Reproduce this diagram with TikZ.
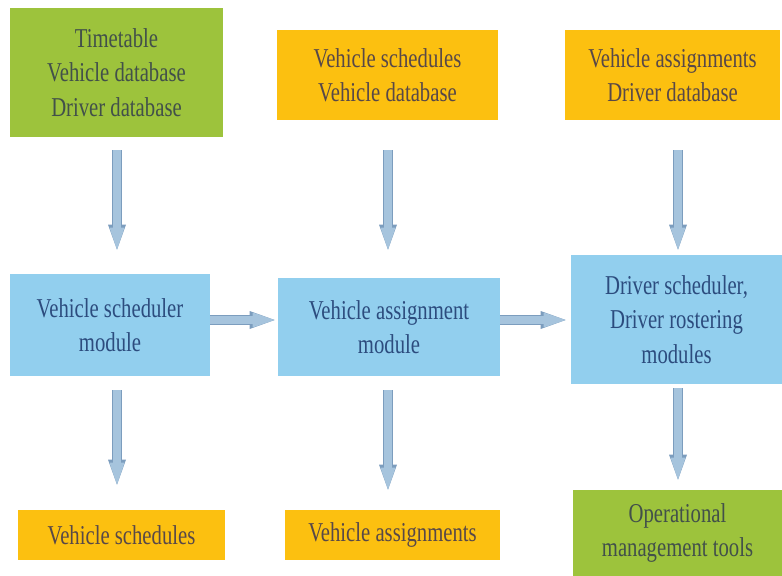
\documentclass[tikz,border=0pt]{standalone}
\usepackage{xcolor}
\usepackage{fontspec}
\setmainfont[FakeStretch=0.76]{Liberation Serif}
\usepackage{tikz}
\usetikzlibrary{calc}
\usetikzlibrary{arrows.meta}

\definecolor{inputgreen}{HTML}{9DC33C}
\definecolor{dataorange}{HTML}{FCC010}
\definecolor{moduleblue}{HTML}{92CFEE}
\definecolor{arrowfill}{HTML}{A6C4DD}
\definecolor{arrowedge}{HTML}{7C9DBE}
\definecolor{greentext}{HTML}{42504A}
\definecolor{orangetext}{HTML}{584848}
\definecolor{bluetext}{HTML}{2C4C7E}

\tikzset{
  box/.style={inner sep=0pt, align=center, font=\fontsize{15.5}{19.5}\selectfont},
  greenbox/.style={box, fill=inputgreen, text=greentext},
  orangebox/.style={box, fill=dataorange, text=orangetext},
  bluebox/.style={box, fill=moduleblue, text=bluetext},
  fatarrow/.style={draw=arrowfill, line width=0.16cm,
    -{Triangle[width=0.3cm,length=0.44cm,line width=0pt]},
    preaction={draw=arrowedge, line width=0.21cm,
      -{Triangle[width=0.36cm,length=0.5cm,line width=0pt]}}}
}

\begin{document}
\begin{tikzpicture}
  \useasboundingbox (0,0) rectangle (15.64,-11.52);

  % Drawing top row
  \node [greenbox, minimum width=4.26cm, minimum height=2.58cm] (tt) at (2.33,-1.45)
    {Timetable\\Vehicle database\\Driver database};
  \node [orangebox, minimum width=4.42cm, minimum height=1.8cm] (vsd) at (7.75,-1.5)
    {Vehicle schedules\\Vehicle database};
  \node [orangebox, minimum width=4.3cm, minimum height=1.8cm] (vad) at (13.45,-1.5)
    {Vehicle assignments\\Driver database};

  % Drawing modules
  \node [bluebox, minimum width=4.0cm, minimum height=2.04cm] (vsm) at (2.2,-6.5)
    {Vehicle scheduler\\module};
  \node [bluebox, minimum width=4.44cm, minimum height=1.96cm] (vam) at (7.78,-6.54)
    {Vehicle assignment\\module};
  \node [bluebox, minimum width=4.22cm, minimum height=2.58cm] (dsm) at (13.53,-6.39)
    {Driver scheduler,\\Driver rostering\\modules};

  % Drawing outputs
  \node [orangebox, minimum width=4.14cm, minimum height=1.0cm] (vs) at (2.43,-10.7)
    {Vehicle schedules};
  \node [orangebox, minimum width=4.3cm, minimum height=1.0cm] (va) at (7.85,-10.7)
    {Vehicle assignments};
  \node [greenbox, minimum width=4.18cm, minimum height=1.72cm] (omt) at (13.55,-10.66)
    {Operational\\management tools};

  % Arrow columns and row
  \coordinate (left) at (2.34,0);
  \coordinate (mid) at (7.76,0);
  \coordinate (right) at (13.56,0);
  \coordinate (row) at (0,-6.4);

  % Drawing arrows into modules
  \draw [fatarrow, shorten <=0.26cm, shorten >=0.48cm] (tt.south -| left) -- (vsm.north -| left);
  \draw [fatarrow, shorten <=0.6cm, shorten >=0.56cm] (vsd.south -| mid) -- (vam.north -| mid);
  \draw [fatarrow, shorten <=0.6cm, shorten >=0.1cm] (vad.south -| right) -- (dsm.north -| right);

  % Drawing arrows between modules
  \draw [fatarrow, shorten >=0.06cm] (vsm.east |- row) -- (vam.west |- row);
  \draw [fatarrow, shorten >=0.1cm] (vam.east |- row) -- (dsm.west |- row);

  % Drawing arrows out of modules
  \draw [fatarrow, shorten <=0.28cm, shorten >=0.5cm] (vsm.south -| left) -- (vs.north -| left);
  \draw [fatarrow, shorten <=0.28cm, shorten >=0.4cm] (vam.south -| mid) -- (va.north -| mid);
  \draw [fatarrow, shorten <=0.08cm, shorten >=0.2cm] (dsm.south -| right) -- (omt.north -| right);
\end{tikzpicture}
\end{document}
